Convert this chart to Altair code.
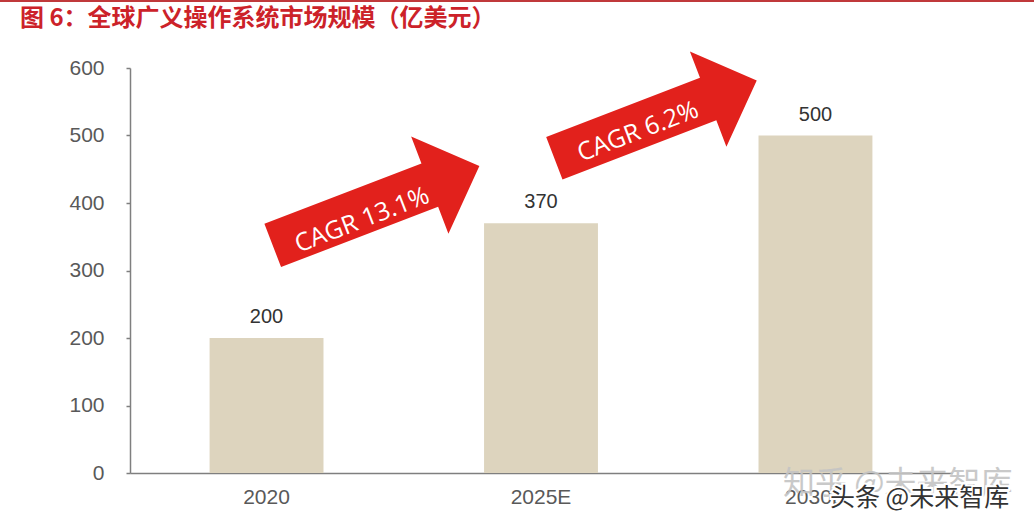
import altair as alt
import pandas as pd

# ---- data ----
years = ["2020", "2025E", "2030E"]
values = [200, 370, 500]

# CAGR arrows (x in category units: category i is centred at i + 0.5)
arrow_x = [0.898, 1.918]
arrow_y = [396, 524]
arrow_size = [49000, 47000]
arrow_angle = [339, 339]

cagr_labels = ["CAGR 13.1%", "CAGR 6.2%"]
cagr_x = [0.847, 1.854]
cagr_y = [375, 506]

title_text = "图 6：全球广义操作系统市场规模（亿美元）"
wm1 = "知乎 @未来智库"
wm2 = "头条 @未来智库"

bars_df = pd.DataFrame({"year": years, "value": values})
arrow_df = pd.DataFrame({"ax": arrow_x, "value": arrow_y, "size": arrow_size, "angle": arrow_angle})
cagr_df = pd.DataFrame({"ax": cagr_x, "value": cagr_y, "label": cagr_labels, "angle": arrow_angle})
one = pd.DataFrame({"k": [0]})

ARROW = "M -1 -0.21 L 0.52 -0.21 L 0.52 -0.47 L 1 0 L 0.52 0.47 L 0.52 0.21 L -1 0.21 Z"

W, H = 822, 405
RED = "#E2211C"
AXIS_GREY = "#7f7f7f"
LABEL_GREY = "#595959"

x_band = alt.X(
    "year:N", sort=years, title=None,
    scale=alt.Scale(paddingInner=0.585, paddingOuter=0.29),
    axis=alt.Axis(labelAngle=0, labelFontSize=21, labelColor=LABEL_GREY,
                  labelFont="Liberation Sans", ticks=False, domainColor=AXIS_GREY,
                  domainWidth=1.5, labelPadding=13),
)
y_val = alt.Y(
    "value:Q", title=None, scale=alt.Scale(domain=[0, 600]),
    axis=alt.Axis(values=[0, 100, 200, 300, 400, 500, 600], grid=False, tickSize=4,
                  tickColor=AXIS_GREY, tickWidth=1.5, domainColor=AXIS_GREY, domainWidth=1.5,
                  labelFontSize=21, labelColor=LABEL_GREY, labelFont="Liberation Sans",
                  labelPadding=22),
)
y_plain = alt.Y("value:Q", title=None, scale=alt.Scale(domain=[0, 600]))

bars = alt.Chart(bars_df).mark_bar(color="#DDD4BE").encode(x=x_band, y=y_val)
vals = alt.Chart(bars_df).mark_text(
    dy=-15, baseline="alphabetic", fontSize=20, font="Liberation Sans", color="#333333"
).encode(x=x_band, y=y_plain, text="value:Q")

xq = alt.X("ax:Q", scale=alt.Scale(domain=[0, 3], nice=False, zero=False), axis=None)

arrows = alt.Chart(arrow_df).mark_point(
    shape=ARROW, filled=True, color=RED, opacity=1, strokeWidth=0
).encode(
    x=xq, y=y_plain,
    size=alt.Size("size:Q", scale=None, legend=None),
    angle=alt.Angle("angle:Q", scale=None),
)
cagr = alt.Chart(cagr_df).mark_text(
    color="white", fontSize=25, font="Open Sans", align="center", baseline="middle"
).encode(x=xq, y=y_plain, text="label:N", angle=alt.Angle("angle:Q", scale=None))

top_rule = alt.Chart(one).mark_rule(color="#C0393B", strokeWidth=2).encode(
    x=alt.value(-130), x2=alt.value(904), y=alt.value(-67)
)
title = alt.Chart(one).mark_text(
    text=title_text, fontSize=24, font="Noto Sans CJK SC", fontWeight="bold",
    color="#CC2229", align="left", baseline="middle"
).encode(x=alt.value(-110), y=alt.value(-49))

wm_light = alt.Chart(one).mark_text(
    text=wm1, fontSize=32, font="Noto Sans CJK SC", color="#c4c4c4", align="left",
    baseline="middle", opacity=0.9
).encode(x=alt.value(653), y=alt.value(416))
wm_halo = alt.Chart(one).mark_text(
    text=wm2, fontSize=25, font="Noto Sans CJK SC", color="white", stroke="white",
    strokeWidth=4, align="left", baseline="middle"
).encode(x=alt.value(700), y=alt.value(430))
wm_dark = alt.Chart(one).mark_text(
    text=wm2, fontSize=25, font="Noto Sans CJK SC", color="#333333", align="left",
    baseline="middle"
).encode(x=alt.value(700), y=alt.value(430))

bar_group = alt.layer(bars, vals)
arrow_group = alt.layer(arrows, cagr)

chart = alt.layer(
    bar_group, arrow_group, top_rule, title, wm_light, wm_halo, wm_dark
).resolve_scale(x="independent").properties(
    width=W, height=H,
    autosize=alt.AutoSizeParams(type="none"),
    padding={"left": 130, "top": 68, "right": 1034 - 130 - W, "bottom": 526 - 68 - H},
).configure_view(strokeWidth=0)

chart.save("out.html", embed_options={"renderer": "svg", "actions": False})
